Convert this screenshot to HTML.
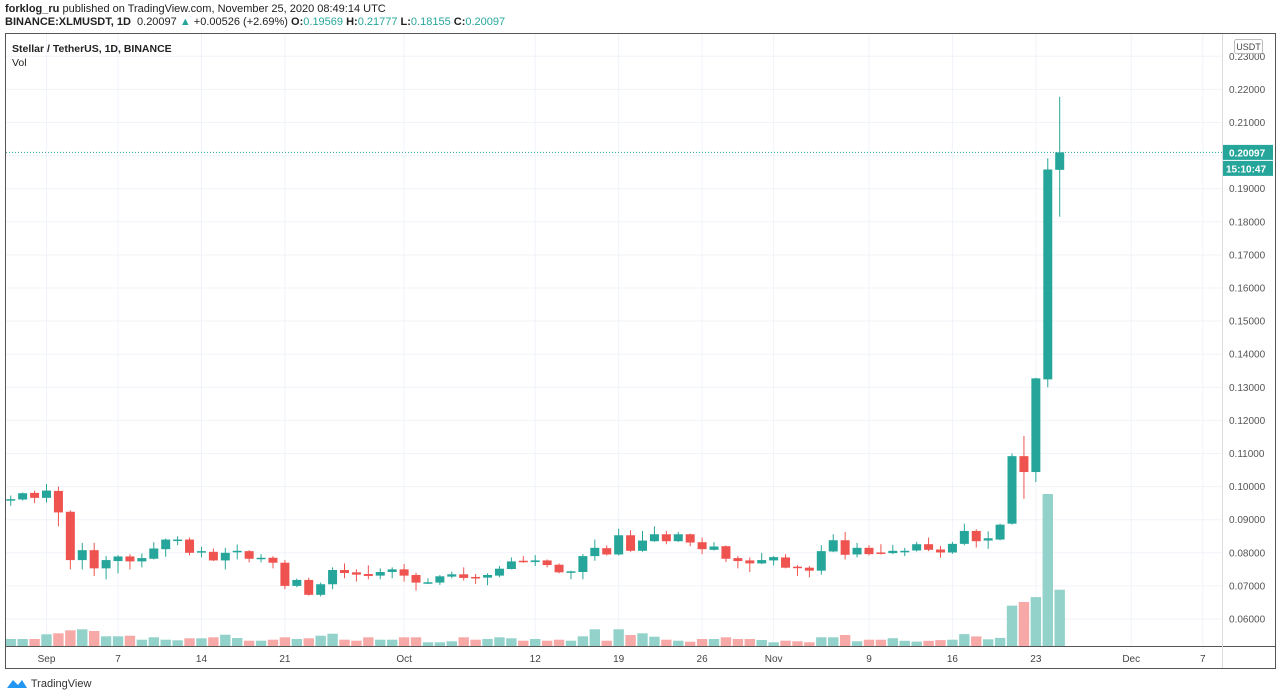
<!DOCTYPE html>
<html><head><meta charset="utf-8"><style>
body{margin:0;width:1280px;height:699px;background:#fff;overflow:hidden;font-family:"Liberation Sans",sans-serif}
#hdr1{position:absolute;left:5px;top:3px;font-size:11px;color:#222}
#hdr2{position:absolute;left:5px;top:16px;font-size:11px;color:#222}
.g{color:#26a69a}
#logo{position:absolute;left:6px;top:677px;font-size:11px;color:#333}
</style></head><body>
<div id="hdr1"><b>forklog_ru</b> published on TradingView.com, November 25, 2020 08:49:14 UTC</div>
<div id="hdr2"><b>BINANCE:XLMUSDT, 1D</b>&nbsp; 0.20097 <span class="g">▲</span> +0.00526 (+2.69%) <b>O:</b><span class="g">0.19569</span> <b>H:</b><span class="g">0.21777</span> <b>L:</b><span class="g">0.18155</span> <b>C:</b><span class="g">0.20097</span></div>
<svg id="chart" width="1280" height="699" style="position:absolute;left:0;top:0"></svg>
<div id="logo"><svg width="22" height="12" style="vertical-align:-2px"><path d="M1 11 L7 3 L12 8 L16 3 L21 11Z" fill="#2196f3"/></svg> TradingView</div>
<script>
// Data: day offsets from Sep 1 (Aug29 = -3)
const opens=[.0958,.0961,.0981,.0966,.0987,.0924,.0778,.0808,.0753,.0775,.0789,.0774,.0782,.0811,.0838,.0840,.0802,.0803,.0777,.0802,.0805,.0783,.0785,.0770,.0700,
.0718,.0673,.0705,.0748,.0741,.0736,.0731,.0742,.0750,.0733,.0709,.0710,.0728,.0735,.0727,.0725,.0731,.0751,.0776,.0772,.0777,.0764,.0742,.0742,
.0790,.0814,.0795,.0853,.0806,.0835,.0856,.0835,.0856,.0832,.0809,.0820,.0784,.0777,.0768,.0777,.0786,.0758,.0755,.0746,.0804,.0838,.0795,.0815,
.0801,.0799,.0802,.0807,.0826,.0810,.0801,.0827,.0866,.0837,.0840,.0888,.1092,.1044,.1324,.19569];
const closes=[.0962,.0980,.0966,.0988,.0922,.0778,.0808,.0753,.0778,.0789,.0774,.0784,.0813,.0840,.0840,.0800,.0805,.0777,.0800,.0806,.0782,.0785,.0770,.0700,.0718,
.0673,.0705,.0748,.0739,.0734,.0730,.0742,.0750,.0731,.0710,.0711,.0729,.0735,.0724,.0726,.0733,.0752,.0774,.0772,.0777,.0763,.0741,.0744,.0790,
.0815,.0795,.0853,.0806,.0837,.0856,.0835,.0856,.0831,.0811,.0819,.0782,.0775,.0768,.0778,.0787,.0755,.0754,.0746,.0805,.0838,.0794,.0815,.0796,
.0798,.0806,.0806,.0826,.0809,.0801,.0827,.0866,.0835,.0844,.0885,.1092,.1044,.1327,.1958,.20097];
const highs=[.0973,.0982,.0988,.1008,.1000,.0928,.0830,.0830,.0790,.0793,.0796,.0798,.0832,.0843,.0850,.0846,.0818,.0813,.0815,.0825,.0808,.0796,.0790,.0778,.0722,
.0725,.0710,.0756,.0768,.0750,.0762,.0753,.0756,.0766,.0740,.0723,.0733,.0743,.0756,.0736,.0738,.0760,.0786,.0790,.0793,.0780,.0768,.0746,.0796,
.0840,.0822,.0873,.0868,.0866,.0880,.0866,.0863,.0858,.0846,.0832,.0822,.0790,.0786,.0800,.0790,.0796,.0763,.0760,.0823,.0856,.0863,.0830,.0823,
.0826,.0824,.0815,.0833,.0846,.0821,.0833,.0888,.0871,.0865,.0888,.1100,.1153,.1329,.1992,.21777];
const lows=[.0942,.0958,.0950,.0952,.0880,.0750,.0750,.0730,.0720,.0738,.0750,.0756,.0780,.0788,.0823,.0792,.0786,.0775,.0750,.0780,.0771,.0771,.0753,.0690,.0696,
.0671,.0668,.0690,.0723,.0713,.0720,.0720,.0723,.0713,.0686,.0706,.0703,.0723,.0716,.0706,.0702,.0726,.0750,.0770,.0760,.0756,.0738,.0720,.0720,
.0776,.0792,.0792,.0803,.0803,.0833,.0826,.0833,.0820,.0796,.0807,.0772,.0753,.0742,.0766,.0762,.0753,.0730,.0726,.0734,.0802,.0780,.0786,.0792,
.0795,.0796,.0790,.0804,.0805,.0785,.0797,.0823,.0816,.0812,.0838,.0885,.0963,.1014,.1300,.18155];
const volumes=[7,7,7,11.7,12.7,15.7,16.7,15,9.7,9.7,10.3,6.3,8.7,6.3,5.7,7.7,7.7,8.7,11.3,8,5.3,5.3,6.3,8.7,7,
7.7,10.3,12.3,6.3,5.3,8.7,6.3,6.3,8.7,8.7,3.7,3.7,4.7,8.7,6.3,7,8.7,7.7,5.3,7,5.3,6.3,5.3,9.7,
16.7,5.3,16.7,11,12.7,9.3,6.3,5.3,4.3,7,7,8.7,7,7,6,3.7,5.3,4.7,3.7,8.7,8.7,11,4.7,6.3,
6.3,7.8,5.2,4.4,5.2,5.9,6.3,11.9,9.6,6.7,8.1,40.4,44,48.9,152,56.3];
const tickLabels=["Sep","7","14","21","Oct","12","19","26","Nov","9","16","23","Dec","7"];
const tickDays=[0,6,13,20,30,41,48,55,61,69,76,83,91,97];
const priceTicks=[0.06,0.07,0.08,0.09,0.10,0.11,0.12,0.13,0.14,0.15,0.16,0.17,0.18,0.19,0.20,0.21,0.22,0.23];
const lastPrice=0.20097;

const NS="http://www.w3.org/2000/svg";
const svg=document.getElementById('chart');
const xOf=d=>46.5+d*11.92;
const yOf=p=>619-(p-0.06)*3310;
const vBase=646;
function mk(tag,attrs,parent){const e=document.createElementNS(NS,tag);for(const k in attrs)e.setAttribute(k,attrs[k]);(parent||svg).appendChild(e);return e;}
// grid
const grid=mk('g',{});


priceTicks.forEach(p=>{const y=yOf(p);if(y<34)return;const l=mk('line',{x1:6,x2:1222,y1:y,y2:y,stroke:'#f0f3fa','stroke-width':1},grid);

});
tickDays.forEach(d=>{const x=xOf(d);const l=mk('line',{x1:x,x2:x,y1:34,y2:646,stroke:'#f0f3fa','stroke-width':1},grid);

});
// volumes
const vg=mk('g',{});


volumes.forEach((v,i)=>{const d=i-3;const up=closes[i]>=opens[i];const r=mk('rect',{x:xOf(d)-5.2,y:vBase-v,width:10.4,height:v,fill:up?'#93d2ca':'#f7a9a7'},vg);

});
// candles
const cg=mk('g',{});


opens.forEach((o,i)=>{const d=i-3,x=xOf(d),c=closes[i],up=c>=o,col=up?'#26a69a':'#ef5350';
const w=mk('line',{x1:x,x2:x,y1:yOf(highs[i]),y2:yOf(lows[i]),stroke:col,'stroke-width':1},cg);


const top=yOf(Math.max(o,c)),h=Math.max(1.5,Math.abs(yOf(o)-yOf(c)));
const b=mk('rect',{x:x-4.5,y:top,width:9,height:h,fill:col},cg);

});
// last price line
const ly=yOf(lastPrice);
const lp=mk('line',{x1:6,x2:1222,y1:ly,y2:ly,stroke:'#26a69a','stroke-width':1,'stroke-dasharray':'1 2'});


// frame
const fr=mk('rect',{x:5.5,y:33.5,width:1270,height:635,fill:'none',stroke:'#555','stroke-width':1});


const xa=mk('line',{x1:6,x2:1275,y1:646.5,y2:646.5,stroke:'#555'});


const ya=mk('line',{x1:1222.5,x2:1222.5,y1:34,y2:668,stroke:'#ddd'});


// price labels
priceTicks.forEach(p=>{const y=yOf(p);if(y<50)return;const t=mk('text',{x:1229,y:y+3.5,'font-size':10,fill:'#555','font-family':'Liberation Sans, sans-serif'});t.textContent=p.toFixed(5);

});
// x labels
tickLabels.forEach((s,i)=>{const t=mk('text',{x:xOf(tickDays[i]),y:662,'font-size':10,fill:'#444','text-anchor':'middle','font-family':'Liberation Sans, sans-serif'});t.textContent=s;

});
// last price badges
const bx=mk('rect',{x:1223,y:ly-7.5,width:50,height:15,fill:'#26a69a'});


const bt=mk('text',{x:1229,y:ly+4,'font-size':10,fill:'#fff','font-weight':'bold','font-family':'Liberation Sans, sans-serif'});bt.textContent=lastPrice.toFixed(5);


const cd=mk('rect',{x:1223,y:ly+8.5,width:50,height:15,fill:'#26a69a'});


const ct=mk('text',{x:1226,y:ly+20,'font-size':10,fill:'#fff','font-weight':'bold','font-family':'Liberation Sans, sans-serif'});ct.textContent='15:10:47';


// currency box
const ub=mk('rect',{x:1234.5,y:39.5,width:28,height:14,fill:'#fff',stroke:'#bbb',rx:2});


const ut=mk('text',{x:1248.5,y:50,'font-size':9,fill:'#444','text-anchor':'middle','font-family':'Liberation Sans, sans-serif'});ut.textContent='USDT';


// legend
const t1=mk('text',{x:12,y:52,'font-size':10.5,'font-weight':'bold',fill:'#222','font-family':'Liberation Sans, sans-serif'});t1.textContent='Stellar / TetherUS, 1D, BINANCE';


const t2=mk('text',{x:12,y:66,'font-size':10.5,fill:'#222','font-family':'Liberation Sans, sans-serif'});t2.textContent='Vol';


</script>
</body></html>
